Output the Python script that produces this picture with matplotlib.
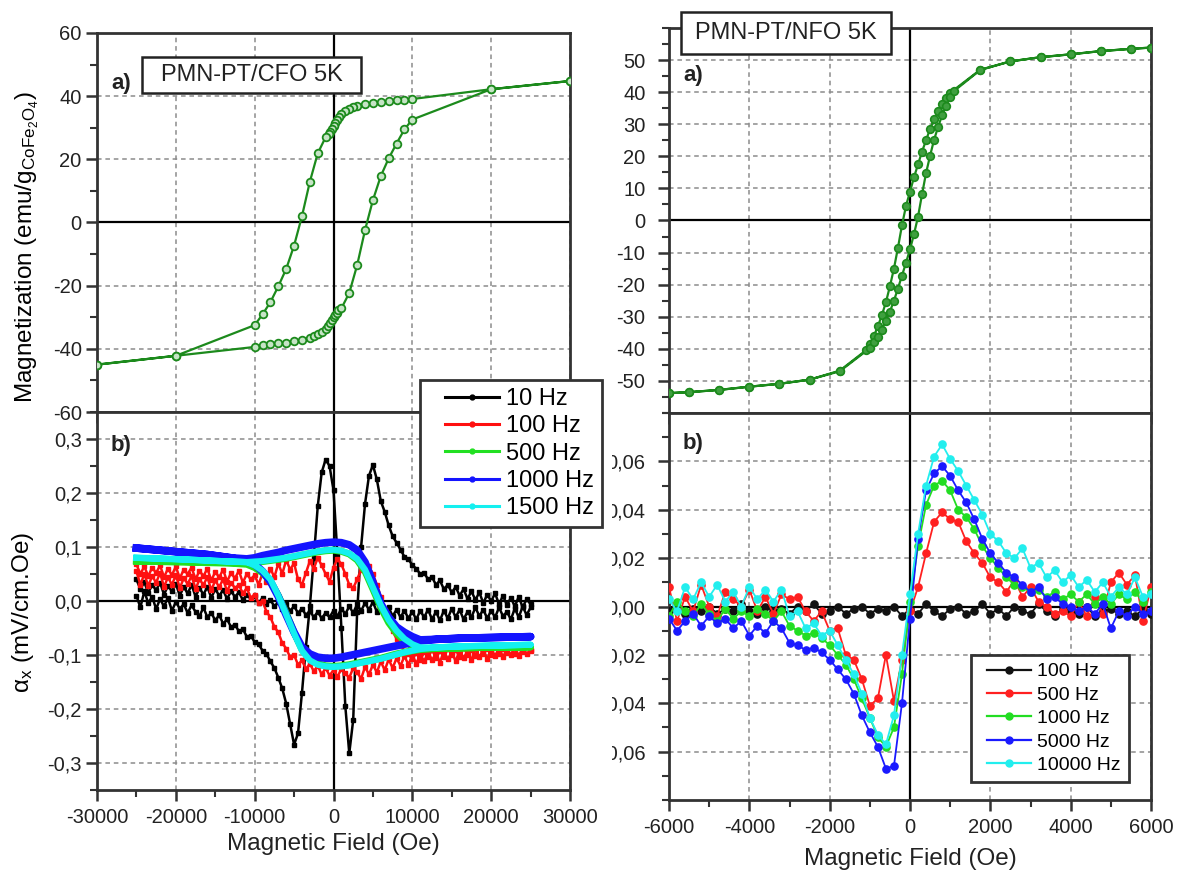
import numpy as np
import matplotlib
matplotlib.use("Agg")
import matplotlib.pyplot as plt
from matplotlib.lines import Line2D
from matplotlib.patches import Rectangle
from matplotlib.legend_handler import HandlerLine2D
from matplotlib.ticker import MultipleLocator, FixedLocator, FuncFormatter
from matplotlib.transforms import Bbox, TransformedBbox

plt.rcParams["font.family"] = ["Liberation Sans", "DejaVu Sans"]
plt.rcParams["mathtext.default"] = "regular"
plt.rcParams["axes.unicode_minus"] = False

# ---------------- PMN-PT/CFO : magnetization loop (5 K) ----------------
cfo_h_down = [30000, 20000, 10000, 9000, 8000, 7000, 6000, 5000, 4000, 3000,
              2500, 2000, 1500, 1000, 700, 400, 200, 0, -200, -400, -600,
              -1000, -2000, -3000, -4000, -5000, -6000, -7000, -8000, -9000,
              -10000, -20000, -30000]
cfo_m_down = [44.8, 42.2, 39.1, 38.9, 38.7, 38.5, 38.2, 37.9, 37.5, 37.0,
              36.6, 36.0, 35.3, 34.3, 33.5, 32.5, 31.5, 30.5, 29.6, 28.8, 28.0,
              27.0, 21.9, 12.9, 2.0, -7.3, -14.7, -20.2, -25.2, -29.1,
              -32.5, -42.2, -45.0]
cfo_h_up = [-30000, -20000, -10000, -9000, -8000, -7000, -6000, -5000, -4000, -3000,
            -2500, -2000, -1500, -1000, -700, -400, -200, 0, 200, 400, 600,
            1000, 2000, 3000, 4000, 5000, 6000, 7000, 8000, 9000,
            10000, 20000, 30000]
cfo_m_up = [-45.0, -42.2, -39.4, -38.9, -38.6, -38.3, -38.0, -37.6, -37.1, -36.5,
            -36.0, -35.4, -34.6, -33.6, -32.8, -31.8, -30.8, -30.0, -29.2, -28.5, -27.8,
            -27.2, -22.3, -13.5, -2.4, 7.1, 14.7, 20.3, 25.0, 29.5,
            32.6, 42.2, 44.8]

# ---------------- PMN-PT/CFO : ME coefficient ----------------
# field sweep of the noisy low-frequency runs, 500 Oe steps
cfo_me_field = np.arange(-25000, 25001, 500)
me10_up = [0.010, -0.012, 0.018, -0.004, 0.008, -0.015, 0.004, -0.010, 0.006, -0.018,
           -0.002, -0.014, -0.006, -0.022, -0.008, -0.020, -0.028, -0.012, -0.030, -0.022,
           -0.036, -0.026, -0.042, -0.034, -0.048, -0.044, -0.056, -0.052, -0.066, -0.064,
           -0.076, -0.080, -0.092, -0.098, -0.112, -0.124, -0.142, -0.162, -0.190, -0.228,
           -0.266, -0.245, -0.170, -0.085, -0.010, 0.080, 0.175, 0.238, 0.262, 0.250,
           0.205, 0.085, -0.050, -0.195, -0.282, -0.220, -0.020, 0.100, 0.180, 0.232,
           0.252, 0.225, 0.185, 0.165, 0.140, 0.120, 0.108, 0.095, 0.082, 0.078,
           0.066, 0.060, 0.050, 0.052, 0.040, 0.044, 0.030, 0.038, 0.022, 0.030,
           0.016, 0.026, 0.010, 0.022, 0.004, 0.018, 0.002, 0.016, -0.004, 0.012,
           0.000, 0.014, -0.006, 0.010, -0.008, 0.006, -0.010, 0.008, -0.012, 0.004,
           -0.006]
me10_down = [0.040, 0.022, 0.035, 0.015, 0.030, 0.020, 0.034, 0.012, 0.028, 0.018,
             0.032, 0.010, 0.026, 0.014, 0.030, 0.008, 0.024, 0.012, 0.026, 0.006,
             0.022, 0.010, 0.020, 0.004, 0.018, 0.008, 0.016, 0.002, 0.012, 0.004,
             0.010, -0.004, 0.006, -0.006, 0.002, -0.010, -0.002, -0.014, -0.006, -0.018,
             -0.010, -0.022, -0.014, -0.026, -0.018, -0.030, -0.020, -0.032, -0.022, -0.030,
             -0.018, -0.028, -0.014, -0.024, -0.010, -0.022, -0.006, -0.018, -0.004, -0.016,
             -0.002, -0.020, -0.008, -0.024, -0.012, -0.028, -0.016, -0.030, -0.018, -0.032,
             -0.020, -0.034, -0.018, -0.030, -0.016, -0.034, -0.020, -0.036, -0.018, -0.032,
             -0.014, -0.030, -0.016, -0.034, -0.020, -0.030, -0.012, -0.028, -0.016, -0.032,
             -0.018, -0.030, -0.012, -0.028, -0.020, -0.034, -0.014, -0.030, -0.010, -0.026,
             -0.012]
me100_up = [0.055, 0.030, 0.050, 0.028, 0.046, 0.034, 0.052, 0.026, 0.044, 0.030,
            0.048, 0.024, 0.042, 0.032, 0.046, 0.022, 0.040, 0.030, 0.044, 0.020,
            0.038, 0.026, 0.040, 0.018, 0.034, 0.024, 0.030, 0.014, 0.024, 0.006,
            0.012, -0.004, 0.000, -0.020, -0.030, -0.048, -0.058, -0.078, -0.088, -0.104,
            -0.100, -0.118, -0.110, -0.126, -0.116, -0.130, -0.120, -0.136, -0.124, -0.138,
            -0.128, -0.140, -0.126, -0.134, -0.142, -0.124, -0.132, -0.144, -0.122, -0.136,
            -0.118, -0.132, -0.112, -0.128, -0.108, -0.124, -0.106, -0.120, -0.102, -0.118,
            -0.100, -0.116, -0.098, -0.112, -0.094, -0.110, -0.096, -0.114, -0.092, -0.108,
            -0.094, -0.112, -0.090, -0.106, -0.092, -0.110, -0.088, -0.104, -0.090, -0.108,
            -0.088, -0.102, -0.086, -0.104, -0.088, -0.100, -0.084, -0.102, -0.086, -0.098,
            -0.090]
me100_down = [0.068, 0.050, 0.064, 0.046, 0.062, 0.052, 0.066, 0.044, 0.060, 0.048,
              0.064, 0.042, 0.058, 0.050, 0.062, 0.040, 0.056, 0.046, 0.060, 0.038,
              0.054, 0.044, 0.058, 0.036, 0.052, 0.042, 0.056, 0.034, 0.050, 0.040,
              0.048, 0.030, 0.052, 0.036, 0.060, 0.044, 0.070, 0.050, 0.076, 0.058,
              0.070, 0.040, 0.030, 0.052, 0.074, 0.060, 0.080, 0.066, 0.050, 0.036,
              0.062, 0.078, 0.068, 0.050, 0.030, 0.024, 0.040, 0.058, 0.070, 0.064,
              0.050, 0.030, 0.008, -0.016, -0.036, -0.056, -0.070, -0.082, -0.092, -0.098,
              -0.108, -0.096, -0.110, -0.094, -0.104, -0.090, -0.106, -0.092, -0.104, -0.088,
              -0.100, -0.090, -0.104, -0.086, -0.100, -0.090, -0.102, -0.086, -0.098, -0.088,
              -0.100, -0.084, -0.098, -0.088, -0.096, -0.084, -0.098, -0.086, -0.094, -0.084,
              -0.092]

# smoother high-frequency runs
cfo_me_field_s = [-25000, -22000, -19000, -16000, -13000, -11000, -10000, -9000, -8000,
                  -7000, -6000, -5000, -4000, -3000, -2000, -1000, 0, 1000, 2000, 3000,
                  4000, 5000, 6000, 7000, 8000, 9000, 10000, 11000, 13000, 16000, 19000,
                  22000, 25000]
me500_up = [0.074, 0.073, 0.072, 0.071, 0.070, 0.068, 0.062, 0.052, 0.036, 0.010, -0.022,
            -0.058, -0.090, -0.108, -0.116, -0.120, -0.121, -0.120, -0.118, -0.115, -0.112,
            -0.109, -0.106, -0.102, -0.098, -0.095, -0.092, -0.090, -0.088, -0.087, -0.086,
            -0.086, -0.085]
me500_down = [0.074, 0.073, 0.073, 0.072, 0.071, 0.071, 0.072, 0.073, 0.075, 0.077, 0.079,
              0.082, 0.085, 0.088, 0.091, 0.093, 0.094, 0.092, 0.087, 0.076, 0.055,
              0.022, -0.012, -0.040, -0.060, -0.074, -0.084, -0.088, -0.088, -0.087, -0.086,
              -0.086, -0.085]
me1000_up = [0.098, 0.094, 0.090, 0.086, 0.080, 0.074, 0.068, 0.055, 0.036, 0.008, -0.026,
             -0.058, -0.085, -0.098, -0.104, -0.106, -0.106, -0.104, -0.101, -0.098, -0.095,
             -0.092, -0.089, -0.086, -0.083, -0.080, -0.077, -0.074, -0.071, -0.069, -0.068,
             -0.067, -0.066]
me1000_down = [0.098, 0.094, 0.090, 0.086, 0.080, 0.078, 0.080, 0.084, 0.087, 0.090, 0.094,
               0.097, 0.100, 0.103, 0.106, 0.108, 0.109, 0.108, 0.104, 0.094, 0.072,
               0.035, -0.005, -0.030, -0.048, -0.058, -0.066, -0.072, -0.071, -0.069, -0.068,
               -0.067, -0.066]
me1500_up = [0.080, 0.078, 0.077, 0.075, 0.073, 0.072, 0.066, 0.056, 0.040, 0.010, -0.025,
             -0.060, -0.092, -0.110, -0.118, -0.121, -0.122, -0.121, -0.119, -0.116, -0.113,
             -0.110, -0.107, -0.103, -0.099, -0.095, -0.092, -0.089, -0.086, -0.084, -0.083,
             -0.082, -0.081]
me1500_down = [0.080, 0.079, 0.077, 0.075, 0.073, 0.072, 0.073, 0.074, 0.076, 0.078, 0.080,
               0.083, 0.086, 0.089, 0.092, 0.094, 0.095, 0.093, 0.088, 0.078, 0.058,
               0.025, -0.008, -0.035, -0.055, -0.070, -0.080, -0.086, -0.086, -0.084, -0.083,
               -0.082, -0.081]

# ---------------- PMN-PT/NFO : magnetization loop (5 K) ----------------
nfo_h_down = [6000, 5500, 4750, 4000, 3250, 2500, 1750,
              1000, 900, 800, 700, 600, 500, 400, 300, 200, 100, 0,
              -100, -200, -300, -400, -500, -600, -700, -800, -900, -1000, -1100,
              -1750, -2500, -3250, -4000, -4750, -5500, -6000]
nfo_m_down = [53.9, 53.5, 52.8, 51.8, 50.9, 49.6, 47.0,
              39.8, 38.2, 36.4, 34.0, 31.5, 28.6, 25.0, 21.5, 17.5, 13.5, 9.0,
              4.5, -1.5, -8.5, -15.0, -20.5, -25.5, -29.5, -33.0, -36.0, -38.5, -40.5,
              -46.8, -49.6, -50.9, -51.8, -52.8, -53.5, -53.8]
nfo_h_up = [-6000, -5500, -4750, -4000, -3250, -2500, -1750,
            -1000, -900, -800, -700, -600, -500, -400, -300, -200, -100, 0,
            100, 200, 300, 400, 500, 600, 700, 800, 900, 1000, 1100,
            1750, 2500, 3250, 4000, 4750, 5500, 6000]
nfo_m_up = [-53.8, -53.5, -52.8, -51.8, -50.9, -49.6, -47.0,
            -39.8, -38.0, -36.2, -34.0, -31.2, -28.4, -25.0, -21.2, -17.2, -13.2, -9.0,
            -4.2, 1.2, 8.2, 14.8, 20.2, 25.2, 29.2, 32.8, 35.8, 38.4, 40.4,
            46.9, 49.6, 50.9, 51.8, 52.8, 53.5, 53.9]

# ---------------- PMN-PT/NFO : ME coefficient ----------------
# field sweep, 200 Oe steps
nfo_me_field = np.arange(-6000, 6001, 200)
nfo_100 = [-0.002, 0.000, -0.003, -0.001, -0.002, 0.000, -0.003, -0.001, -0.002, 0.001,
           -0.002, -0.003, 0.000, -0.002, -0.001, -0.003, 0.000, -0.002, 0.001, -0.003,
           -0.002, 0.000, -0.003, -0.001, 0.000, -0.003, -0.001, -0.002, 0.000, -0.004,
           -0.001, -0.003, 0.001, -0.002, -0.004, -0.001, 0.000, -0.003, -0.002, 0.001,
           -0.003, -0.001, -0.004, 0.000, -0.002, -0.003, 0.001, -0.002, -0.004, -0.001,
           -0.002, -0.003, 0.000, -0.004, -0.002, -0.001, -0.003, -0.002, -0.004, -0.001,
           -0.003]
nfo_500 = [0.008, -0.006, 0.004, -0.002, 0.009, 0.000, -0.004, 0.006, 0.003, 0.000,
           0.007, -0.002, 0.004, -0.003, 0.005, 0.003, 0.004, -0.002, -0.006, -0.002,
           -0.010, -0.009, -0.020, -0.022, -0.030, -0.041, -0.038, -0.020, -0.039, -0.022,
           -0.002, 0.008, 0.022, 0.035, 0.039, 0.036, 0.035, 0.027, 0.022, 0.018,
           0.012, 0.010, 0.006, 0.011, 0.004, 0.008, 0.002, 0.000, -0.003, -0.002,
           -0.004, 0.002, -0.004, 0.004, -0.003, 0.010, 0.014, 0.009, 0.013, -0.006,
           0.008]
nfo_1000 = [-0.004, 0.002, -0.002, -0.004, 0.001, -0.003, -0.006, -0.001, -0.005, -0.002,
            -0.004, -0.001, -0.003, -0.006, -0.002, -0.008, -0.010, -0.012, -0.011, -0.013,
            -0.016, -0.020, -0.024, -0.030, -0.038, -0.046, -0.054, -0.058, -0.050, -0.028,
            0.002, 0.025, 0.042, 0.050, 0.052, 0.048, 0.040, 0.037, 0.032, 0.025,
            0.020, 0.016, 0.012, 0.009, 0.008, 0.006, 0.007, 0.004, 0.006, 0.003,
            0.005, 0.002, 0.005, 0.001, 0.004, 0.001, 0.005, 0.003, 0.006, 0.002,
            0.006]
nfo_5000 = [-0.005, -0.010, -0.006, -0.003, -0.008, -0.004, -0.007, -0.005, -0.009, -0.006,
            -0.012, -0.008, -0.011, -0.006, -0.009, -0.015, -0.016, -0.018, -0.017, -0.019,
            -0.022, -0.026, -0.030, -0.036, -0.045, -0.052, -0.058, -0.067, -0.066, -0.040,
            -0.005, 0.028, 0.048, 0.055, 0.058, 0.054, 0.048, 0.043, 0.036, 0.028,
            0.022, 0.018, 0.014, 0.012, 0.009, 0.006, 0.008, 0.003, 0.004, 0.001,
            0.000, -0.002, 0.000, -0.003, 0.001, -0.009, -0.002, -0.004, 0.000, -0.003,
            -0.002]
nfo_10000 = [0.003, -0.002, 0.008, 0.003, 0.010, 0.004, 0.009, 0.002, 0.006, 0.000,
             0.008, 0.003, 0.007, 0.002, 0.007, -0.004, -0.002, -0.009, -0.007, -0.012,
             -0.010, -0.016, -0.022, -0.028, -0.036, -0.046, -0.053, -0.057, -0.045, -0.020,
             0.005, 0.030, 0.050, 0.062, 0.067, 0.061, 0.056, 0.050, 0.044, 0.038,
             0.030, 0.027, 0.022, 0.020, 0.024, 0.016, 0.018, 0.012, 0.015, 0.010,
             0.013, 0.008, 0.011, 0.006, 0.010, 0.004, 0.008, 0.005, 0.012, 0.004,
             0.005]

cfo_labels = ["10 Hz", "100 Hz", "500 Hz", "1000 Hz", "1500 Hz"]
nfo_labels = ["100 Hz", "500 Hz", "1000 Hz", "5000 Hz", "10000 Hz"]


def loop(field, up, down):
    """Join the up-sweep and the down-sweep into one closed trace."""
    f = np.asarray(field, float)
    return (np.concatenate([f, f[::-1]]),
            np.concatenate([np.asarray(up, float), np.asarray(down, float)[::-1]]))


W, H = 1180, 872
fig = plt.figure(figsize=(W / 100, H / 100), dpi=100)

ax_lt = fig.add_axes([97 / W, 1 - 412 / H, 473 / W, 379 / H])
ax_lb = fig.add_axes([97 / W, 1 - 790 / H, 473 / W, 378 / H], sharex=ax_lt)
ax_rt = fig.add_axes([669 / W, 1 - 413 / H, 482 / W, 385 / H])
ax_rb = fig.add_axes([669 / W, 1 - 800 / H, 482 / W, 387 / H], sharex=ax_rt)

SPINE = "#333333"


def style(ax, xlim, xmaj, xmin, ylim, yticks, ymin, fmt, xlabels, ypad):
    ax.set_xlim(*xlim)
    ax.set_ylim(*ylim)
    ax.xaxis.set_major_locator(MultipleLocator(xmaj))
    ax.xaxis.set_minor_locator(MultipleLocator(xmin))
    ax.yaxis.set_major_locator(FixedLocator(yticks))
    ax.yaxis.set_minor_locator(MultipleLocator(ymin))
    ax.yaxis.set_major_formatter(FuncFormatter(fmt))
    for s in ax.spines.values():
        s.set_linewidth(2.0)
        s.set_color(SPINE)
    ax.tick_params(which="major", direction="out", length=8, width=1.8, color=SPINE,
                   labelsize=14.5, labelcolor="#222222")
    ax.tick_params(which="minor", direction="out", length=5, width=1.5, color=SPINE)
    ax.tick_params(axis="x", labelbottom=xlabels, pad=5)
    ax.tick_params(axis="y", pad=ypad)
    ax.grid(True, which="major", ls=(0, (3, 2.5)), color="#8c8c8c", lw=1.1)
    ax.axhline(0, color="black", lw=1.6, zorder=2.2)
    ax.axvline(0, color="black", lw=1.6, zorder=2.2)


def comma(nd):
    def f(v, pos):
        v = round(v, nd)
        if v == 0:
            v = 0.0
        return f"{v:.{nd}f}".replace(".", ",")
    return f


style(ax_lt, (-30000, 30000), 10000, 5000, (-60, 60), [-60, -40, -20, 0, 20, 40, 60], 10,
      lambda v, p: f"{v:.0f}", False, 3)
style(ax_lb, (-30000, 30000), 10000, 5000, (-0.35, 0.35),
      [-0.3, -0.2, -0.1, 0.0, 0.1, 0.2, 0.3], 0.05, comma(1), True, 3)
style(ax_rt, (-6000, 6000), 2000, 1000, (-60, 60), list(range(-50, 51, 10)), 5,
      lambda v, p: f"{v:.0f}", False, 9)
style(ax_rb, (-6000, 6000), 2000, 1000, (-0.08, 0.08),
      [-0.06, -0.04, -0.02, 0.0, 0.02, 0.04, 0.06], 0.01, comma(2), True, 9)

# ---- top left: CFO M(H)
GREEN_D = "#1c8a1c"
ax_lt.plot(cfo_h_down + cfo_h_up, cfo_m_down + cfo_m_up, color=GREEN_D, lw=1.6,
           marker="o", ms=5.5, mfc="#c6e4c6", mec=GREEN_D, mew=1.3, zorder=3)
ax_lt.set_ylabel(r"Magnetization (emu/g$_{CoFe_2O_4}$)", fontsize=17.5)
ax_lt.yaxis.set_label_coords(-0.118, 0.435)

# ---- bottom left: CFO ME coefficient
x, y = loop(cfo_me_field, me10_up, me10_down)
ax_lb.plot(x, y, color="black", lw=1.8, marker="s", ms=3.0, zorder=3)
x, y = loop(cfo_me_field, me100_up, me100_down)
ax_lb.plot(x, y, color="#ff1010", lw=1.8, marker="s", ms=3.0, zorder=3)
x, y = loop(cfo_me_field_s, me500_up, me500_down)
ax_lb.plot(x, y, color="#22e022", lw=5.0, solid_joinstyle="round", zorder=3)
x, y = loop(cfo_me_field_s, me1000_up, me1000_down)
ax_lb.plot(x, y, color="#1414ff", lw=5.5, solid_joinstyle="round", zorder=3)
x, y = loop(cfo_me_field_s, me1500_up, me1500_down)
ax_lb.plot(x, y, color="#14f0f0", lw=4.5, solid_joinstyle="round", zorder=3)
ax_lb.set_ylabel(r"$\alpha_x$ (mV/cm.Oe)", fontsize=17.5)
ax_lb.yaxis.set_label_coords(-0.129, 0.47)
ax_lb.set_xlabel("Magnetic Field (Oe)", fontsize=17.5, labelpad=4, color="#222222")

# ---- top right: NFO M(H)
ax_rt.plot(nfo_h_down + nfo_h_up, nfo_m_down + nfo_m_up, color=GREEN_D, lw=1.6,
           marker="o", ms=5.5, mfc="#3f9f3f", mec=GREEN_D, mew=1.2, zorder=3)

# ---- bottom right: NFO ME coefficient
nfo_colors = ["#111111", "#ff2020", "#22dd22", "#1a1aff", "#22eeee"]
for vals, c in zip([nfo_100, nfo_500, nfo_1000, nfo_5000, nfo_10000], nfo_colors):
    ax_rb.plot(nfo_me_field, vals, color=c, lw=1.3, marker="o", ms=5.2, mec=c, mfc=c,
               zorder=3)
ax_rb.set_xlabel("Magnetic Field (Oe)", fontsize=17.5, labelpad=8, color="#222222")

# right-hand tick labels are cut by the panel edge
clip = TransformedBbox(Bbox([[612 / W, 0], [1, 1]]), fig.transFigure)
for ax in (ax_rt, ax_rb):
    for t in ax.yaxis.get_major_ticks():
        t.label1.set_clip_box(clip)
        t.label1.set_clip_on(True)

# ---- panel tags
for (px, py, s) in [(111, 83, "a)"), (111, 445, "b)"), (683, 76, "a)"), (683, 444, "b)")]:
    fig.text(px / W, 1 - py / H, s, fontsize=16, fontweight="bold", ha="left",
             va="center", color="#222222")


def boxed_title(x0, y0, x1, y1, text):
    fig.patches.append(Rectangle((x0 / W, 1 - y1 / H), (x1 - x0) / W, (y1 - y0) / H,
                                 transform=fig.transFigure, facecolor="white",
                                 edgecolor="#222222", lw=1.8, zorder=4))
    fig.text((x0 + x1) / 2 / W, 1 - (y0 + y1) / 2 / H, text, fontsize=17, ha="center",
             va="center", color="#222222", zorder=5)


boxed_title(142, 57, 361, 93, "PMN-PT/CFO 5K")
boxed_title(681, 12, 891, 54, "PMN-PT/NFO 5K")

# ---- legends
cfo_colors = ["black", "#ff1010", "#22e022", "#1414ff", "#14f0f0"]
h1 = [Line2D([], [], color=c, lw=2.2, marker="o", ms=3.5) for c in cfo_colors]
leg1 = fig.legend(h1, cfo_labels, loc="upper left", bbox_to_anchor=(420 / W, 1 - 380 / H),
                  fontsize=17, frameon=True, fancybox=False, edgecolor="#333333",
                  framealpha=1, handlelength=3.0, handletextpad=0.3, labelspacing=0.22,
                  borderpad=0.35, borderaxespad=0,
                  handler_map={Line2D: HandlerLine2D(xpad=0.7)})
leg1.get_frame().set_linewidth(2.0)
leg1.set_zorder(6)

h2 = [Line2D([], [], color=c, lw=1.6, marker="o", ms=5) for c in nfo_colors]
leg2 = fig.legend(h2, nfo_labels, loc="upper left", bbox_to_anchor=(971 / W, 1 - 655 / H),
                  fontsize=14, frameon=True, fancybox=False, edgecolor="#333333",
                  framealpha=1, handlelength=2.7, handletextpad=0.3, labelspacing=0.3,
                  borderpad=0.4, borderaxespad=0,
                  handler_map={Line2D: HandlerLine2D(xpad=0.4)})
leg2.get_frame().set_linewidth(2.0)
leg2.set_zorder(6)

fig.savefig("out.png", dpi=100)
